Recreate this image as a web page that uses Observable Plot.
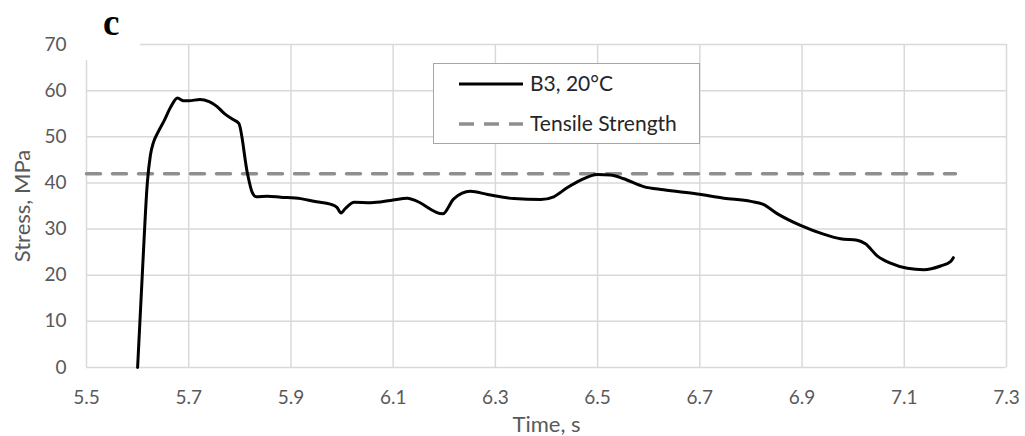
<!DOCTYPE html>
<html><head><meta charset="utf-8">
<script src="https://cdn.jsdelivr.net/npm/d3@7"></script>
<script src="https://cdn.jsdelivr.net/npm/@observablehq/plot@0.6"></script>
<style>
body{margin:0;background:#fff;}
#wrap{position:relative;width:1025px;height:436px;font-family:Lato,sans-serif;overflow:hidden;}
#panel{position:absolute;left:76px;top:0;width:64px;height:60px;background:#fff;}
#panel svg{position:absolute;left:0;top:0;}
#legend{position:absolute;left:433px;top:63px;width:265px;height:79px;border:1.5px solid #a6a6a6;background:#fff;}
#legend svg{position:absolute;left:0;top:0;}
#chart g[aria-label="x-axis label"] text, #chart g[aria-label="y-axis label"] text{font-size:22px;}
</style>
</head><body>
<div id="wrap"><div id="chart"></div><div id="panel"></div><div id="legend"></div></div>
<script>
// ---- data ----
const time = [5.600,5.610,5.619,5.625,5.631,5.640,5.652,5.665,5.678,5.690,5.700,5.722,5.740,5.755,5.770,5.786,5.798,5.815,5.824,5.832,5.854,5.880,5.919,5.950,5.977,5.990,5.998,6.006,6.024,6.056,6.095,6.128,6.145,6.197,6.218,6.235,6.251,6.285,6.336,6.389,6.414,6.441,6.467,6.500,6.525,6.551,6.590,6.629,6.695,6.747,6.800,6.823,6.852,6.897,6.942,6.975,7.008,7.024,7.047,7.073,7.106,7.138,7.171,7.191,7.196];
const stress = [0,22,40,46,48.8,51,53.5,56.5,58.4,57.8,57.8,58.1,57.6,56.6,55.0,53.8,52.9,42,38,37.0,37.1,36.9,36.6,35.9,35.4,34.7,33.5,34.4,35.8,35.7,36.2,36.7,36.1,33.3,36.5,37.8,38.2,37.5,36.6,36.4,37.0,39.0,40.6,41.8,41.7,40.9,39.2,38.5,37.6,36.7,36.0,35.4,33.3,30.8,28.9,27.9,27.6,26.8,24.2,22.6,21.5,21.2,22.0,23.0,23.8];
const tensileTime = [5.5, 7.2];
const tensileStress = [42, 42];
const xTicks = [5.5,5.7,5.9,6.1,6.3,6.5,6.7,6.9,7.1,7.3];
const yTicks = [0,10,20,30,40,50,60,70];
const seriesNames = ["B3, 20°C", "Tensile Strength"];
const panelLabel = "c";

const curve = time.map((t,i)=>({t, s: stress[i]}));
const tensile = tensileTime.map((t,i)=>({t, s: tensileStress[i]}));

const chart = Plot.plot({
  width:1025, height:436,
  marginLeft:86, marginRight:19, marginTop:44, marginBottom:69,
  style:{fontFamily:"Lato, sans-serif", fontSize:"19px", color:"#595959", background:"#fff"},
  x:{domain:[5.5,7.3], ticks:xTicks, tickFormat:d=>d.toFixed(1), tickSize:0, tickPadding:23,
     label:"Time, s", labelAnchor:"center", labelOffset:64, labelArrow:"none"},
  y:{domain:[0,70], ticks:yTicks, tickSize:0, tickPadding:20,
     label:"Stress, MPa", labelAnchor:"center", labelOffset:72, labelArrow:"none"},
  marks:[
    Plot.ruleX(xTicks,{stroke:"#d9d9d9", strokeWidth:1.5}),
    Plot.ruleY(yTicks,{stroke:"#d9d9d9", strokeWidth:1.5}),
    Plot.line(tensile,{x:"t", y:"s", stroke:"#8f8f8f", strokeWidth:3.5, strokeDasharray:"14,12"}),
    Plot.line(curve,{x:"t", y:"s", stroke:"#000", strokeWidth:3, curve:"monotone-x"})
  ]
});
document.getElementById("chart").appendChild(chart);

// panel label
d3.select("#panel").append("svg").attr("width",64).attr("height",60)
  .append("text").attr("x",27).attr("y",35)
  .style("font","bold 37px 'Liberation Serif', serif").attr("fill","#000").text(panelLabel);

// legend
const lg = d3.select("#legend").append("svg").attr("width",265).attr("height",79)
  .style("font-family","Lato, sans-serif").style("font-size","21px");
lg.append("line").attr("x1",25).attr("x2",89).attr("y1",20).attr("y2",20)
  .attr("stroke","#000").attr("stroke-width",3);
lg.append("text").attr("x",96).attr("y",20).attr("dy","0.35em").attr("fill","#262626").text(seriesNames[0]);
lg.append("line").attr("x1",25).attr("x2",89).attr("y1",60).attr("y2",60)
  .attr("stroke","#8f8f8f").attr("stroke-width",3.5).attr("stroke-dasharray","15,10");
lg.append("text").attr("x",96).attr("y",60).attr("dy","0.35em").attr("fill","#262626").text(seriesNames[1]);
</script>
</body></html>
